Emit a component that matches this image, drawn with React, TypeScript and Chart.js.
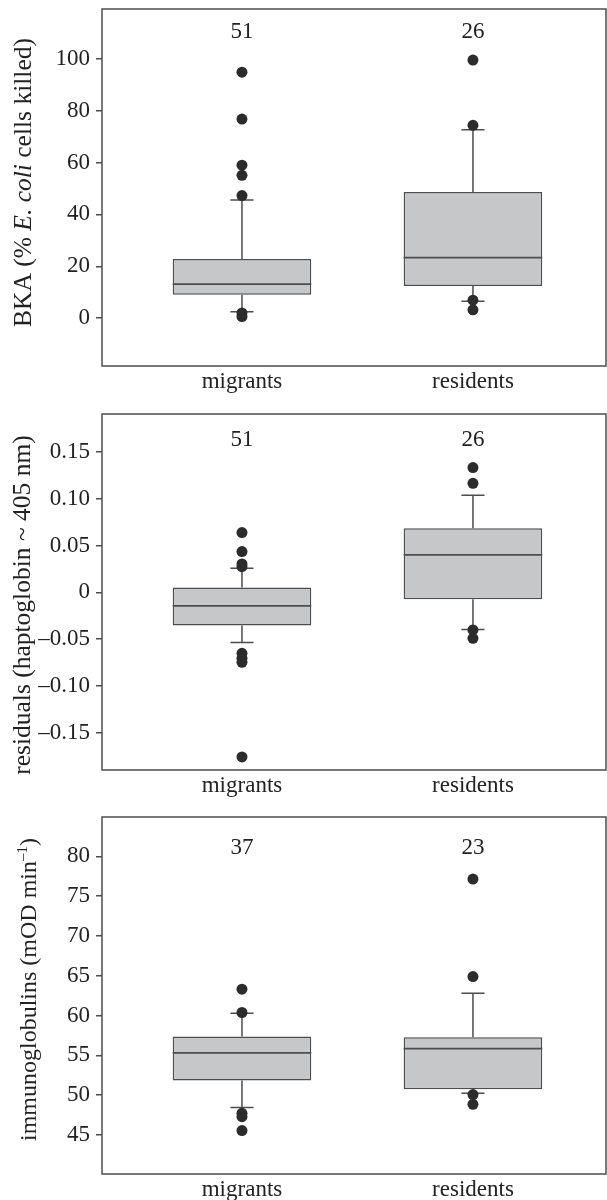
import React, { useEffect, useRef } from 'react';
import { Chart, registerables } from 'chart.js';

Chart.register(...registerables);

// ---------- data ----------
const categories = ['migrants', 'residents'];

// Panel 1: bactericidal activity
const bkaQ1 = [9.0, 12.4];
const bkaMedian = [13.1, 23.3];
const bkaQ3 = [22.8, 48.7];
const bkaWhiskerLow = [2.4, 6.5];
const bkaWhiskerHigh = [45.6, 72.7];
const bkaOutliersMigrants = [94.9, 76.8, 59.0, 55.1, 47.3, 2.0, 0.6];
const bkaOutliersResidents = [99.6, 74.4, 6.9, 3.2];
const bkaCounts = ['51', '26'];
const bkaTicks = [0, 20, 40, 60, 80, 100];
const bkaTickLabels = ['0', '20', '40', '60', '80', '100'];

// Panel 2: haptoglobin residuals
const hapQ1 = [-0.0356, -0.0075];
const hapMedian = [-0.0146, 0.0399];
const hapQ3 = [0.005, 0.0684];
const hapWhiskerLow = [-0.0538, -0.0399];
const hapWhiskerHigh = [0.0257, 0.1037];
const hapOutliersMigrants = [0.0638, 0.0435, 0.0303, 0.0274, -0.0652, -0.0706, -0.0748, -0.176];
const hapOutliersResidents = [0.1333, 0.1165, -0.0403, -0.0492];
const hapCounts = ['51', '26'];
const hapTicks = [-0.15, -0.1, -0.05, 0, 0.05, 0.1, 0.15];
const hapTickLabels = ['\u20130.15', '\u20130.10', '\u20130.05', '0', '0.05', '0.10', '0.15'];

// Panel 3: immunoglobulins
const igQ1 = [51.84, 50.75];
const igMedian = [55.31, 55.86];
const igQ3 = [57.37, 57.28];
const igWhiskerLow = [48.44, 50.24];
const igWhiskerHigh = [60.3, 62.82];
const igOutliersMigrants = [63.32, 60.39, 47.73, 47.3, 45.55];
const igOutliersResidents = [77.15, 64.91, 50.08, 48.86];
const igCounts = ['37', '23'];
const igTicks = [45, 50, 55, 60, 65, 70, 75, 80];
const igTickLabels = ['45', '50', '55', '60', '65', '70', '75', '80'];

// ---------- style ----------
const SERIF = '"Liberation Serif", "Times New Roman", serif';
const TEXT = '#222222';
const EDGE = '#4d4d4d';
const BOX_FILL = '#c6c7c9';
const DOT = '#2c2c2c';
const BOX_WIDTH = 0.6;
const CAP_HALF = 0.05;
const X_MIN = -0.606;
const X_MAX = 1.576;
const Y_AXIS_WIDTH = 102;
const TICK_FONT = 23;

type Seg = { text: string; italic?: boolean; sup?: boolean };

type Panel = {
  title: Seg[];
  titleSize: number;
  titleX: number;
  titleShift: number;
  q1: number[];
  median: number[];
  q3: number[];
  lo: number[];
  hi: number[];
  outliers: number[][];
  counts: string[];
  countY: number;
  yMin: number;
  yMax: number;
  ticks: number[];
  tickLabels: string[];
  padTop: number;
  xHeight: number;
};

const panels: Panel[] = [
  {
    title: [{ text: 'BKA (% ' }, { text: 'E. coli', italic: true }, { text: ' cells killed)' }],
    titleSize: 25.5,
    titleX: 31,
    titleShift: -5,
    q1: bkaQ1, median: bkaMedian, q3: bkaQ3, lo: bkaWhiskerLow, hi: bkaWhiskerHigh,
    outliers: [bkaOutliersMigrants, bkaOutliersResidents],
    counts: bkaCounts, countY: 110.3,
    yMin: -18.5, yMax: 119.3, ticks: bkaTicks, tickLabels: bkaTickLabels,
    padTop: 9, xHeight: 34,
  },
  {
    title: [{ text: 'residuals (haptoglobin ~ 405 nm)' }],
    titleSize: 25.5,
    titleX: 30,
    titleShift: 13,
    q1: hapQ1, median: hapMedian, q3: hapQ3, lo: hapWhiskerLow, hi: hapWhiskerHigh,
    outliers: [hapOutliersMigrants, hapOutliersResidents],
    counts: hapCounts, countY: 0.163,
    yMin: -0.19, yMax: 0.1906, ticks: hapTicks, tickLabels: hapTickLabels,
    padTop: 14, xHeight: 30,
  },
  {
    title: [{ text: 'immunoglobulins (mOD min' }, { text: '\u20131', sup: true }, { text: ')' }],
    titleSize: 24,
    titleX: 36,
    titleShift: -6,
    q1: igQ1, median: igMedian, q3: igQ3, lo: igWhiskerLow, hi: igWhiskerHigh,
    outliers: [igOutliersMigrants, igOutliersResidents],
    counts: igCounts, countY: 81.05,
    yMin: 40.1, yMax: 84.95, ticks: igTicks, tickLabels: igTickLabels,
    padTop: 17, xHeight: 26,
  },
];

function segFont(s: Seg, size: number) {
  const px = s.sup ? Math.round(size * 0.62) : size;
  return `${s.italic ? 'italic ' : ''}${px}px ${SERIF}`;
}

function makeDecor(p: Panel) {
  return {
    id: 'decor',
    afterDraw(chart: any) {
      const { ctx, chartArea } = chart;
      const xs = chart.scales.x;
      const ys = chart.scales.y;
      ctx.save();
      // frame
      ctx.strokeStyle = EDGE;
      ctx.lineWidth = 1.5;
      ctx.strokeRect(chartArea.left, chartArea.top, chartArea.right - chartArea.left, chartArea.bottom - chartArea.top);
      // group counts
      ctx.fillStyle = TEXT;
      ctx.font = `${TICK_FONT}px ${SERIF}`;
      ctx.textAlign = 'center';
      ctx.textBaseline = 'middle';
      p.counts.forEach((c, i) => {
        ctx.fillText(c, xs.getPixelForValue(i), ys.getPixelForValue(p.countY));
      });
      // rotated y-axis title with mixed styles
      let total = 0;
      p.title.forEach((s) => {
        ctx.font = segFont(s, p.titleSize);
        total += ctx.measureText(s.text).width;
      });
      const cy = (chartArea.top + chartArea.bottom) / 2 + p.titleShift;
      ctx.translate(p.titleX, cy);
      ctx.rotate(-Math.PI / 2);
      ctx.textAlign = 'left';
      ctx.textBaseline = 'alphabetic';
      let x = -total / 2;
      p.title.forEach((s) => {
        ctx.font = segFont(s, p.titleSize);
        ctx.fillText(s.text, x, s.sup ? -p.titleSize * 0.38 : 0);
        x += ctx.measureText(s.text).width;
      });
      ctx.restore();
    },
  };
}

function buildConfig(p: Panel): any {
  const whisker: any[] = [];
  const medians: any[] = [];
  categories.forEach((_, i) => {
    whisker.push(
      { x: i, y: p.q3[i] }, { x: i, y: p.hi[i] }, { x: i, y: null },
      { x: i, y: p.q1[i] }, { x: i, y: p.lo[i] }, { x: i, y: null },
      { x: i - CAP_HALF, y: p.hi[i] }, { x: i + CAP_HALF, y: p.hi[i] }, { x: i, y: null },
      { x: i - CAP_HALF, y: p.lo[i] }, { x: i + CAP_HALF, y: p.lo[i] }, { x: i, y: null },
    );
    medians.push({ x: i - BOX_WIDTH / 2, y: p.median[i] }, { x: i + BOX_WIDTH / 2, y: p.median[i] }, { x: i, y: null });
  });
  const dots: any[] = [];
  p.outliers.forEach((vals, i) => vals.forEach((v) => dots.push({ x: i, y: v })));

  return {
    type: 'bar',
    data: {
      datasets: [
        {
          type: 'scatter',
          data: dots,
          backgroundColor: DOT,
          borderWidth: 0,
          pointRadius: 5.5,
          order: 0,
        },
        {
          type: 'line',
          data: medians,
          borderColor: EDGE,
          borderWidth: 1.8,
          pointRadius: 0,
          spanGaps: false,
          order: 1,
        },
        {
          type: 'bar',
          data: categories.map((_, i) => ({ x: i, y: [p.q1[i], p.q3[i]] })),
          backgroundColor: BOX_FILL,
          borderColor: EDGE,
          borderWidth: 1.5,
          borderSkipped: false,
          barPercentage: BOX_WIDTH,
          categoryPercentage: 1,
          order: 2,
        },
        {
          type: 'line',
          data: whisker,
          borderColor: EDGE,
          borderWidth: 1.5,
          pointRadius: 0,
          spanGaps: false,
          order: 3,
        },
      ],
    },
    options: {
      animation: false,
      responsive: false,
      devicePixelRatio: 1,
      layout: { autoPadding: false, padding: { top: p.padTop, right: 1, left: 0, bottom: 0 } },
      plugins: { legend: { display: false }, tooltip: { enabled: false } },
      scales: {
        x: {
          type: 'linear',
          offset: false,
          min: X_MIN,
          max: X_MAX,
          afterBuildTicks: (s: any) => {
            s.ticks = categories.map((_, i) => ({ value: i }));
          },
          afterFit: (s: any) => {
            s.height = p.xHeight;
            s.paddingLeft = 0;
            s.paddingRight = 0;
          },
          grid: { display: false, drawTicks: false, offset: false },
          border: { display: false },
          ticks: {
            autoSkip: false,
            maxRotation: 0,
            padding: 2,
            color: TEXT,
            font: { family: SERIF, size: TICK_FONT },
            callback: (v: number) => categories[Math.round(v)],
          },
        },
        y: {
          type: 'linear',
          min: p.yMin,
          max: p.yMax,
          afterBuildTicks: (s: any) => {
            s.ticks = p.ticks.map((v) => ({ value: v }));
          },
          afterFit: (s: any) => {
            s.width = Y_AXIS_WIDTH;
            s.paddingTop = 0;
            s.paddingBottom = 0;
          },
          grid: {
            drawOnChartArea: false,
            drawTicks: true,
            tickLength: 6,
            color: EDGE,
            lineWidth: 1.5,
          },
          border: { display: false },
          ticks: {
            autoSkip: false,
            padding: 6,
            color: TEXT,
            font: { family: SERIF, size: TICK_FONT },
            callback: (_v: number, idx: number) => p.tickLabels[idx],
          },
        },
      },
    },
    plugins: [makeDecor(p)],
  };
}

function PanelChart({ panel }: { panel: Panel }) {
  const ref = useRef<HTMLCanvasElement | null>(null);
  useEffect(() => {
    if (!ref.current) return;
    const chart = new Chart(ref.current, buildConfig(panel));
    return () => chart.destroy();
  }, [panel]);
  return <canvas ref={ref} width={607} height={400} style={{ display: 'block', width: 607, height: 400 }} />;
}

export default function App() {
  return (
    <div style={{ position: 'absolute', left: 0, top: 0, width: 607, height: 1200, background: '#ffffff', overflow: 'hidden' }}>
      {panels.map((p, i) => (
        <PanelChart key={i} panel={p} />
      ))}
    </div>
  );
}
